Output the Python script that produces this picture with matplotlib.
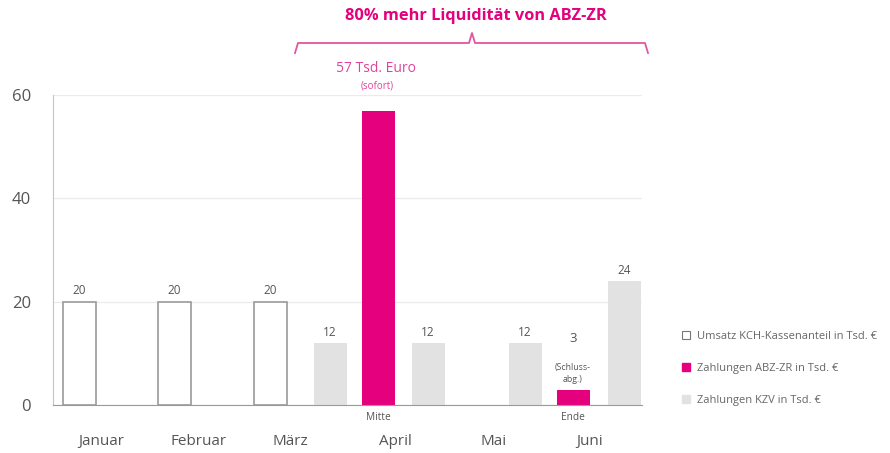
import matplotlib
matplotlib.use("Agg")
import matplotlib.pyplot as plt
from matplotlib.patches import Patch
from matplotlib.lines import Line2D

plt.rcParams['font.family'] = ['Open Sans', 'DejaVu Sans']

# ---- data ----
months = ["Januar", "Februar", "März", "April", "Mai", "Juni"]
umsatz_labels = ["Januar", "Februar", "März"]
umsatz_values = [20, 20, 20]
abz_labels = ["April", "Juni"]
abz_values = [57, 3]
kzv_labels = ["März", "April", "Mai", "Juni"]
kzv_values = [12, 12, 12, 24]
legend_labels = ["Umsatz KCH-Kassenanteil in Tsd. €",
                 "Zahlungen ABZ-ZR in Tsd. €",
                 "Zahlungen KZV in Tsd. €"]
yticks = [0, 20, 40, 60]

# ---- layout (pixel-like x units inside the axes) ----
month_pos = [48, 146, 237, 342, 441, 537]
umsatz_pos = [26, 121, 217]
kzv_pos = [277, 375, 472, 571]
abz_pos = [325, 520]
bar_w = 33

MAGENTA = "#E5007D"
KZVGRAY = "#E2E2E2"
EDGE = "#9A9A9A"
TXT = "#555555"

W, H = 890, 453
fig = plt.figure(figsize=(W / 100, H / 100), dpi=100)
ax_left, ax_right, ax_bottom, ax_top = 53, 642, 405, 95
ax = fig.add_axes([ax_left / W, 1 - ax_bottom / H, (ax_right - ax_left) / W, (ax_bottom - ax_top) / H])

ax.bar(umsatz_pos, umsatz_values, width=bar_w, facecolor="white", edgecolor=EDGE, linewidth=1.2, zorder=3)
ax.bar(kzv_pos, kzv_values, width=bar_w, color=KZVGRAY, zorder=3)
ax.bar(abz_pos, abz_values, width=bar_w, color=MAGENTA, zorder=3)

ax.set_xlim(0, ax_right - ax_left)
ax.set_ylim(0, 60)
ax.set_yticks(yticks)
ax.set_xticks(month_pos)
ax.set_xticklabels(months, fontsize=11, color=TXT)
ax.tick_params(axis='x', length=0, pad=21)
ax.tick_params(axis='y', length=0, pad=16, labelsize=12, labelcolor=TXT)
ax.grid(axis='y', color="#EBEBEB", linewidth=0.9, zorder=0)
ax.set_axisbelow(True)
for s in ["top", "right"]:
    ax.spines[s].set_visible(False)
ax.spines["left"].set_color("#C4C4C4")
ax.spines["bottom"].set_color("#9A9A9A")
ax.spines["bottom"].set_zorder(4)

# value labels
for x, v in zip(umsatz_pos, umsatz_values):
    ax.annotate(str(v), (x, v), xytext=(0, 3), textcoords="offset points",
                ha="center", va="bottom", fontsize=8.5, color=TXT)
for x, v in zip(kzv_pos, kzv_values):
    ax.annotate(str(v), (x, v), xytext=(0, 3), textcoords="offset points",
                ha="center", va="bottom", fontsize=8.5, color=TXT)
# ABZ small bar label
ax.annotate("3", (abz_pos[1], abz_values[1]), xytext=(0, 32), textcoords="offset points",
            ha="center", va="bottom", fontsize=9.5, color=TXT)
ax.annotate("(Schluss-\nabg.)", (abz_pos[1], abz_values[1]), xytext=(0, 4), textcoords="offset points",
            ha="center", va="bottom", fontsize=6.3, color=TXT, linespacing=1.4)
# below-axis notes
for x, t in zip(abz_pos, ["Mitte", "Ende"]):
    ax.annotate(t, (x, 0), xytext=(0, -5), textcoords="offset points",
                ha="center", va="top", fontsize=7.3, color=TXT)

# headline and brace
fig.text(476 / W, 1 - 16 / H, "80% mehr Liquidität von ABZ-ZR", ha="center", va="center",
         fontsize=11.8, fontweight="bold", color=MAGENTA)
BR = "#E4559F"
def fx(px):
    return px / W
def fy(py):
    return 1 - py / H
brace_x = [295, 298, 469, 472, 475, 645, 648]
brace_y = [53, 43, 43, 33, 43, 43, 53]
fig.add_artist(Line2D([fx(p) for p in brace_x], [fy(p) for p in brace_y], color=BR, linewidth=1.3))

fig.text(376 / W, 1 - 68 / H, "57 Tsd. Euro", ha="center", va="center", fontsize=10, color="#E0449A")
fig.text(377 / W, 1 - 86 / H, "(sofort)", ha="center", va="center", fontsize=7, color="#E0449A")

# legend
handles = [Patch(facecolor="white", edgecolor="#777777", linewidth=0.8),
           Patch(facecolor=MAGENTA, edgecolor=MAGENTA),
           Patch(facecolor=KZVGRAY, edgecolor=KZVGRAY)]
leg = fig.legend(handles, legend_labels, loc="upper left", bbox_to_anchor=(676 / W, 1 - 325 / H),
                 frameon=False, fontsize=8, labelspacing=1.9, handlelength=0.75, handleheight=0.75,
                 handletextpad=0.6, borderpad=0)
for t in leg.get_texts():
    t.set_color("#666666")

fig.savefig("out.png", dpi=100)
